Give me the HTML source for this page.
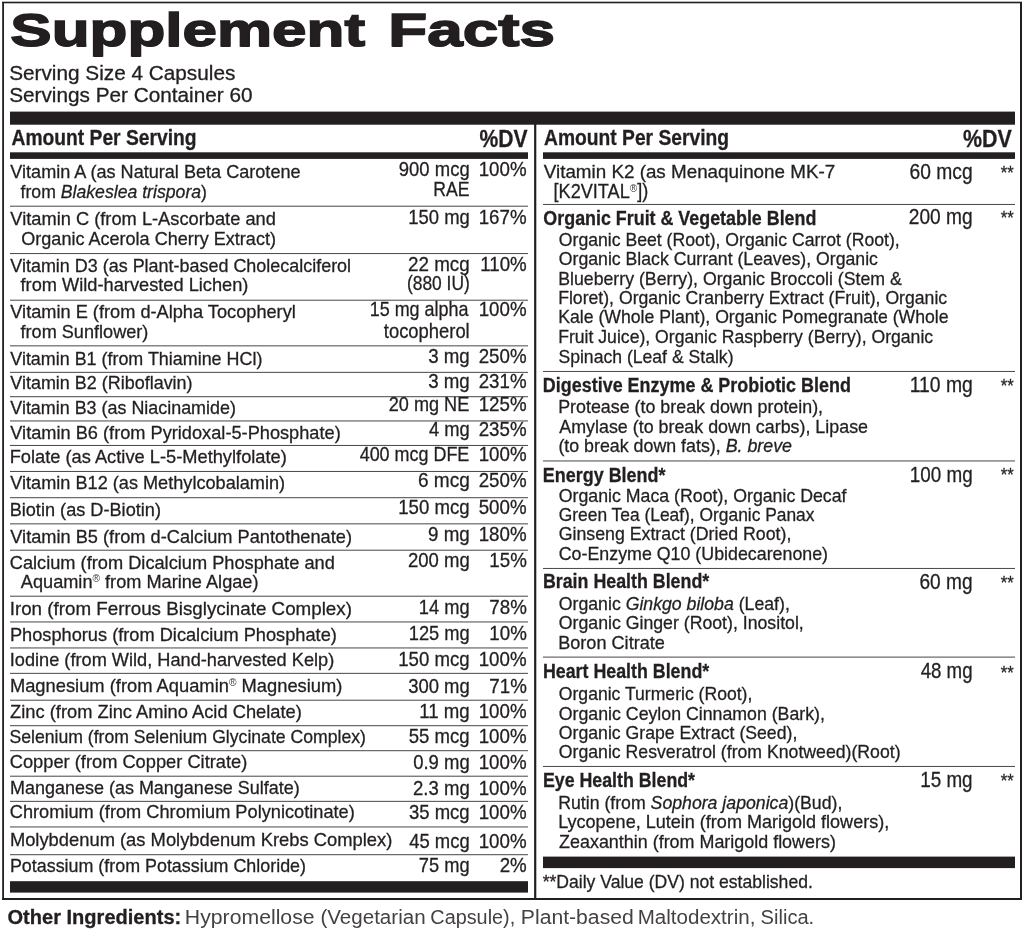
<!DOCTYPE html>
<html lang="en"><head><meta charset="utf-8"><title>Supplement Facts</title>
<style>
html,body{margin:0;padding:0;background:#fff;}
body{width:1024px;height:930px;position:relative;overflow:hidden;font-family:"Liberation Sans",sans-serif;color:#231f20;}
.t{position:absolute;left:0;top:0;white-space:nowrap;transform-origin:0 0;}
main,header,section,footer{display:block;margin:0;padding:0;}
#label,#other-ingredients{will-change:transform;}
sup{font-size:0.56em;vertical-align:0;position:relative;top:-0.56em;line-height:0;-webkit-text-stroke:0;color:#3a3637;}
i{font-style:italic;}
.n{font-size:19px;font-weight:400;line-height:21px;-webkit-text-stroke:0.3px #231f20;}
.b{font-size:20px;font-weight:700;line-height:22px;-webkit-text-stroke:0.3px #231f20;}
.n2{font-size:20.2px;font-weight:400;line-height:22px;-webkit-text-stroke:0.3px #231f20;}
.dvv{font-size:20.2px;font-weight:400;line-height:22px;-webkit-text-stroke:0.3px #231f20;}
.a{font-size:20.2px;font-weight:400;line-height:22px;-webkit-text-stroke:0.3px #231f20;}
.ra{font-size:22px;font-weight:400;line-height:25px;-webkit-text-stroke:0.3px #231f20;}
.ast{font-size:19px;font-weight:400;line-height:21px;-webkit-text-stroke:0.3px #231f20;}
.title{font-size:45.5px;font-weight:700;line-height:51px;-webkit-text-stroke:1.4px #231f20;text-shadow:0 0.7px 0 #231f20,0 -0.7px 0 #231f20;}
.serv{font-size:19.7px;font-weight:400;line-height:22px;-webkit-text-stroke:0.3px #231f20;}
.aps{font-size:21.5px;font-weight:700;line-height:24px;-webkit-text-stroke:0.3px #231f20;}
.dv{font-size:24.4px;font-weight:700;line-height:27px;-webkit-text-stroke:0.3px #231f20;}
.fb{font-size:20px;font-weight:700;line-height:22px;-webkit-text-stroke:0.3px #231f20;}
.f{font-size:20px;font-weight:400;line-height:22px;color:#454142;}
</style></head>
<body>
<svg id="lines" width="1024" height="930" viewBox="0 0 1024 930" style="position:absolute;left:0;top:0" shape-rendering="geometricPrecision"><rect x="2.2" y="2" width="1.8" height="898" fill="#231f20"/><rect x="1020" y="2" width="2" height="898" fill="#231f20"/><rect x="2" y="1.7" width="1020" height="1.6" fill="#231f20"/><rect x="2" y="898" width="1020" height="2" fill="#231f20"/><rect x="10" y="111.6" width="1005" height="13.1" fill="#231f20"/><rect x="10" y="152.3" width="518" height="6.6" fill="#231f20"/><rect x="543" y="152.3" width="472" height="6.6" fill="#231f20"/><rect x="10" y="881.2" width="518" height="11.4" fill="#231f20"/><rect x="543" y="856.6" width="472" height="11.5" fill="#231f20"/><rect x="534.1" y="124" width="2.2" height="775" fill="#231f20"/><rect x="10" y="205.7" width="518" height="1" fill="#4a4647"/><rect x="10" y="253.05" width="518" height="1" fill="#4a4647"/><rect x="10" y="299.7" width="518" height="1" fill="#4a4647"/><rect x="10" y="345.35" width="518" height="1" fill="#4a4647"/><rect x="10" y="371.85" width="518" height="1" fill="#4a4647"/><rect x="10" y="396.2" width="518" height="1" fill="#4a4647"/><rect x="10" y="420.45" width="518" height="1" fill="#4a4647"/><rect x="10" y="444.95" width="518" height="1" fill="#4a4647"/><rect x="10" y="470.95" width="518" height="1" fill="#4a4647"/><rect x="10" y="497.2" width="518" height="1" fill="#4a4647"/><rect x="10" y="523.35" width="518" height="1" fill="#4a4647"/><rect x="10" y="549.7" width="518" height="1" fill="#4a4647"/><rect x="10" y="595.7" width="518" height="1" fill="#4a4647"/><rect x="10" y="621.45" width="518" height="1" fill="#4a4647"/><rect x="10" y="647.45" width="518" height="1" fill="#4a4647"/><rect x="10" y="672.85" width="518" height="1" fill="#4a4647"/><rect x="10" y="699.7" width="518" height="1" fill="#4a4647"/><rect x="10" y="725.2" width="518" height="1" fill="#4a4647"/><rect x="10" y="750.2" width="518" height="1" fill="#4a4647"/><rect x="10" y="775.7" width="518" height="1" fill="#4a4647"/><rect x="10" y="800.85" width="518" height="1" fill="#4a4647"/><rect x="10" y="826.45" width="518" height="1" fill="#4a4647"/><rect x="10" y="854.2" width="518" height="1" fill="#4a4647"/><rect x="543" y="203.95" width="472" height="1" fill="#4a4647"/><rect x="543" y="370.95" width="472" height="1" fill="#4a4647"/><rect x="543" y="460.45" width="472" height="1" fill="#4a4647"/><rect x="543" y="567.95" width="472" height="1" fill="#4a4647"/><rect x="543" y="656.6" width="472" height="1" fill="#4a4647"/><rect x="543" y="765.95" width="472" height="1" fill="#4a4647"/></svg>
<main id="label">
<header id="label-header">
<div class="t title" style="transform:translate(10.35px,5.3px) scaleX(1.3624)">Supplement</div>
<div class="t title" style="transform:translate(388.21px,5.3px) scaleX(1.4023)">Facts</div>
<div class="t serv" style="transform:translate(9.16px,61.5px) scaleX(1.0545)">Serving Size 4 Capsules</div>
<div class="t serv" style="transform:translate(9.16px,84px) scaleX(1.0538)">Servings Per Container 60</div>
</header>
<section id="panel-left">
<div class="t aps" style="transform:translate(11.51px,126.25px) scaleX(0.8954)">Amount Per Serving</div>
<div class="t dv" style="transform:translate(479.56px,125px) scaleX(0.8642)">%DV</div>
<div class="t n" style="transform:translate(10.28px,161px) scaleX(0.9522)">Vitamin A (as Natural Beta Carotene</div>
<div class="t n" style="transform:translate(20.56px,180.5px) scaleX(0.9291)">from <i>Blakeslea trispora</i>)</div>
<div class="t n" style="transform:translate(10.28px,208px) scaleX(0.9613)">Vitamin C (from L-Ascorbate and</div>
<div class="t n" style="transform:translate(21.29px,228px) scaleX(0.9495)">Organic Acerola Cherry Extract)</div>
<div class="t n" style="transform:translate(10.29px,255px) scaleX(0.9445)">Vitamin D3 (as Plant-based Cholecalciferol</div>
<div class="t n" style="transform:translate(20.55px,274px) scaleX(0.9592)">from Wild-harvested Lichen)</div>
<div class="t n" style="transform:translate(10.28px,301px) scaleX(0.9577)">Vitamin E (from d-Alpha Tocopheryl</div>
<div class="t n" style="transform:translate(20.55px,320.5px) scaleX(0.9530)">from Sunflower)</div>
<div class="t n" style="transform:translate(10.29px,348px) scaleX(0.9423)">Vitamin B1 (from Thiamine HCl)</div>
<div class="t n" style="transform:translate(10.29px,372.25px) scaleX(0.9450)">Vitamin B2 (Riboflavin)</div>
<div class="t n" style="transform:translate(10.29px,397.25px) scaleX(0.9426)">Vitamin B3 (as Niacinamide)</div>
<div class="t n" style="transform:translate(10.28px,421.75px) scaleX(0.9579)">Vitamin B6 (from Pyridoxal-5-Phosphate)</div>
<div class="t n" style="transform:translate(9.63px,445.5px) scaleX(0.9616)">Folate (as Active L-5-Methylfolate)</div>
<div class="t n" style="transform:translate(10.28px,472.25px) scaleX(0.9545)">Vitamin B12 (as Methylcobalamin)</div>
<div class="t n" style="transform:translate(9.64px,498.75px) scaleX(0.9553)">Biotin (as D-Biotin)</div>
<div class="t n" style="transform:translate(10.28px,525.5px) scaleX(0.9582)">Vitamin B5 (from d-Calcium Pantothenate)</div>
<div class="t n" style="transform:translate(9.74px,551.75px) scaleX(0.9589)">Calcium (from Dicalcium Phosphate and</div>
<div class="t n" style="transform:translate(20.81px,571px) scaleX(0.9560)">Aquamin<sup>&reg;</sup> from Marine Algae)</div>
<div class="t n" style="transform:translate(9.7px,597.5px) scaleX(0.9882)">Iron (from Ferrous Bisglycinate Complex)</div>
<div class="t n" style="transform:translate(9.89px,623.5px) scaleX(0.9585)">Phosphorus (from Dicalcium Phosphate)</div>
<div class="t n" style="transform:translate(9.74px,648.75px) scaleX(0.9572)">Iodine (from Wild, Hand-harvested Kelp)</div>
<div class="t n" style="transform:translate(9.88px,675px) scaleX(0.9647)">Magnesium (from Aquamin<sup>&reg;</sup> Magnesium)</div>
<div class="t n" style="transform:translate(10.07px,700.5px) scaleX(0.9627)">Zinc (from Zinc Amino Acid Chelate)</div>
<div class="t n" style="transform:translate(9.42px,725.5px) scaleX(0.9275)">Selenium (from Selenium Glycinate Complex)</div>
<div class="t n" style="transform:translate(9.73px,750.5px) scaleX(0.9616)">Copper (from Copper Citrate)</div>
<div class="t n" style="transform:translate(9.91px,777.25px) scaleX(0.9466)">Manganese (as Manganese Sulfate)</div>
<div class="t n" style="transform:translate(9.74px,801.25px) scaleX(0.9584)">Chromium (from Chromium Polynicotinate)</div>
<div class="t n" style="transform:translate(9.88px,829.25px) scaleX(0.9656)">Molybdenum (as Molybdenum Krebs Complex)</div>
<div class="t n" style="transform:translate(9.91px,855px) scaleX(0.9410)">Potassium (from Potassium Chloride)</div>
<div class="t a" style="transform:translate(398.79px,158.25px) scaleX(0.9152)">900 mcg</div>
<div class="t a" style="transform:translate(433.2px,177.5px) scaleX(0.8716)">RAE</div>
<div class="t a" style="transform:translate(408.22px,205.75px) scaleX(0.9141)">150 mg</div>
<div class="t a" style="transform:translate(408.02px,252.5px) scaleX(0.9312)">22 mcg</div>
<div class="t a" style="transform:translate(406.93px,271.75px) scaleX(0.8610)">(880 IU)</div>
<div class="t a" style="transform:translate(369.75px,297.5px) scaleX(0.8884)">15 mg alpha</div>
<div class="t a" style="transform:translate(383.79px,320px) scaleX(0.9114)">tocopherol</div>
<div class="t a" style="transform:translate(428.15px,344.5px) scaleX(0.9269)">3 mg</div>
<div class="t a" style="transform:translate(428.15px,369.5px) scaleX(0.9269)">3 mg</div>
<div class="t a" style="transform:translate(388.79px,393.25px) scaleX(0.8962)">20 mg NE</div>
<div class="t a" style="transform:translate(428.91px,418.25px) scaleX(0.9093)">4 mg</div>
<div class="t a" style="transform:translate(359.67px,443.25px) scaleX(0.8884)">400 mcg DFE</div>
<div class="t a" style="transform:translate(417.98px,469px) scaleX(0.9435)">6 mcg</div>
<div class="t a" style="transform:translate(398.2px,495.75px) scaleX(0.9229)">150 mcg</div>
<div class="t a" style="transform:translate(428.03px,522.5px) scaleX(0.9296)">9 mg</div>
<div class="t a" style="transform:translate(408.03px,549px) scaleX(0.9170)">200 mg</div>
<div class="t a" style="transform:translate(418.73px,595.75px) scaleX(0.9059)">14 mg</div>
<div class="t a" style="transform:translate(408.73px,622px) scaleX(0.9064)">125 mg</div>
<div class="t a" style="transform:translate(398.2px,647.75px) scaleX(0.9229)">150 mcg</div>
<div class="t a" style="transform:translate(408.15px,674.5px) scaleX(0.9151)">300 mg</div>
<div class="t a" style="transform:translate(419.2px,700.25px) scaleX(0.9236)">11 mg</div>
<div class="t a" style="transform:translate(408.75px,725px) scaleX(0.9199)">55 mcg</div>
<div class="t a" style="transform:translate(413.17px,750.5px) scaleX(0.9165)">0.9 mg</div>
<div class="t a" style="transform:translate(413.03px,776.75px) scaleX(0.9189)">2.3 mg</div>
<div class="t a" style="transform:translate(408.9px,801px) scaleX(0.9176)">35 mcg</div>
<div class="t a" style="transform:translate(409.16px,829.5px) scaleX(0.9136)">45 mcg</div>
<div class="t a" style="transform:translate(418.78px,854.25px) scaleX(0.9049)">75 mg</div>
<div class="t dvv" style="transform:translate(478.7px,158.25px) scaleX(0.9275)">100%</div>
<div class="t dvv" style="transform:translate(478.7px,205.75px) scaleX(0.9275)">167%</div>
<div class="t dvv" style="transform:translate(480.2px,252.5px) scaleX(0.9275)">110%</div>
<div class="t dvv" style="transform:translate(478.7px,297.5px) scaleX(0.9275)">100%</div>
<div class="t dvv" style="transform:translate(478.7px,344.5px) scaleX(0.9275)">250%</div>
<div class="t dvv" style="transform:translate(478.7px,369.5px) scaleX(0.9275)">231%</div>
<div class="t dvv" style="transform:translate(478.7px,393.25px) scaleX(0.9275)">125%</div>
<div class="t dvv" style="transform:translate(478.7px,418.25px) scaleX(0.9275)">235%</div>
<div class="t dvv" style="transform:translate(478.7px,443.25px) scaleX(0.9275)">100%</div>
<div class="t dvv" style="transform:translate(478.7px,469px) scaleX(0.9275)">250%</div>
<div class="t dvv" style="transform:translate(478.7px,495.75px) scaleX(0.9275)">500%</div>
<div class="t dvv" style="transform:translate(478.7px,522.5px) scaleX(0.9275)">180%</div>
<div class="t dvv" style="transform:translate(489.33px,549px) scaleX(0.9275)">15%</div>
<div class="t dvv" style="transform:translate(489.33px,595.75px) scaleX(0.9275)">78%</div>
<div class="t dvv" style="transform:translate(489.33px,622px) scaleX(0.9275)">10%</div>
<div class="t dvv" style="transform:translate(478.7px,647.75px) scaleX(0.9275)">100%</div>
<div class="t dvv" style="transform:translate(489.33px,674.5px) scaleX(0.9275)">71%</div>
<div class="t dvv" style="transform:translate(478.7px,700.25px) scaleX(0.9275)">100%</div>
<div class="t dvv" style="transform:translate(478.7px,725px) scaleX(0.9275)">100%</div>
<div class="t dvv" style="transform:translate(478.7px,750.5px) scaleX(0.9275)">100%</div>
<div class="t dvv" style="transform:translate(478.7px,776.75px) scaleX(0.9275)">100%</div>
<div class="t dvv" style="transform:translate(478.7px,801px) scaleX(0.9275)">100%</div>
<div class="t dvv" style="transform:translate(478.7px,829.5px) scaleX(0.9275)">100%</div>
<div class="t dvv" style="transform:translate(499.68px,854.25px) scaleX(0.9275)">2%</div>
</section>
<section id="panel-right">
<div class="t aps" style="transform:translate(544.01px,126.25px) scaleX(0.8954)">Amount Per Serving</div>
<div class="t dv" style="transform:translate(963.05px,125px) scaleX(0.8778)">%DV</div>
<div class="t n" style="transform:translate(543.77px,161px) scaleX(0.9902)">Vitamin K2 (as Menaquinone MK-7</div>
<div class="t n2" style="transform:translate(553.56px,179.5px) scaleX(0.8968)">[K2VITAL<sup>&reg;</sup>])</div>
<div class="t b" style="transform:translate(543.37px,206.65px) scaleX(0.8933)">Organic Fruit &amp; Vegetable Blend</div>
<div class="t n" style="transform:translate(558.81px,228.75px) scaleX(0.9276)">Organic Beet (Root), Organic Carrot (Root),</div>
<div class="t n" style="transform:translate(558.8px,248.25px) scaleX(0.9298)">Organic Black Currant (Leaves), Organic</div>
<div class="t n" style="transform:translate(558.18px,267.75px) scaleX(0.9326)">Blueberry (Berry), Organic Broccoli (Stem &amp;</div>
<div class="t n" style="transform:translate(558.18px,287px) scaleX(0.9279)">Floret), Organic Cranberry Extract (Fruit), Organic</div>
<div class="t n" style="transform:translate(558.18px,306.25px) scaleX(0.9289)">Kale (Whole Plant), Organic Pomegranate (Whole</div>
<div class="t n" style="transform:translate(558.18px,326px) scaleX(0.9272)">Fruit Juice), Organic Raspberry (Berry), Organic</div>
<div class="t n" style="transform:translate(558.42px,345.5px) scaleX(0.9262)">Spinach (Leaf &amp; Stalk)</div>
<div class="t b" style="transform:translate(542.87px,374.15px) scaleX(0.8969)">Digestive Enzyme &amp; Probiotic Blend</div>
<div class="t n" style="transform:translate(558.17px,396.25px) scaleX(0.9394)">Protease (to break down protein),</div>
<div class="t n" style="transform:translate(559.31px,415.5px) scaleX(0.9399)">Amylase (to break down carbs), Lipase</div>
<div class="t n" style="transform:translate(558.38px,435.25px) scaleX(0.9372)">(to break down fats), <i>B. breve</i></div>
<div class="t b" style="transform:translate(542.87px,463.65px) scaleX(0.8968)">Energy Blend*</div>
<div class="t n" style="transform:translate(558.8px,484.5px) scaleX(0.9331)">Organic Maca (Root), Organic Decaf</div>
<div class="t n" style="transform:translate(558.79px,503.5px) scaleX(0.9147)">Green Tea (Leaf), Organic Panax</div>
<div class="t n" style="transform:translate(558.78px,522.75px) scaleX(0.9332)">Ginseng Extract (Dried Root),</div>
<div class="t n" style="transform:translate(558.75px,542.5px) scaleX(0.9375)">Co-Enzyme Q10 (Ubidecarenone)</div>
<div class="t b" style="transform:translate(542.88px,570.15px) scaleX(0.8909)">Brain Health Blend*</div>
<div class="t n" style="transform:translate(558.8px,593.25px) scaleX(0.9308)">Organic <i>Ginkgo biloba</i> (Leaf),</div>
<div class="t n" style="transform:translate(558.8px,612.25px) scaleX(0.9316)">Organic Ginger (Root), Inositol,</div>
<div class="t n" style="transform:translate(558.15px,631.75px) scaleX(0.9536)">Boron Citrate</div>
<div class="t b" style="transform:translate(542.88px,660.4px) scaleX(0.8909)">Heart Health Blend*</div>
<div class="t n" style="transform:translate(558.81px,683px) scaleX(0.9258)">Organic Turmeric (Root),</div>
<div class="t n" style="transform:translate(558.8px,702.5px) scaleX(0.9334)">Organic Ceylon Cinnamon (Bark),</div>
<div class="t n" style="transform:translate(558.8px,722px) scaleX(0.9294)">Organic Grape Extract (Seed),</div>
<div class="t n" style="transform:translate(558.8px,741px) scaleX(0.9300)">Organic Resveratrol (from Knotweed)(Root)</div>
<div class="t b" style="transform:translate(542.88px,769.15px) scaleX(0.8890)">Eye Health Blend*</div>
<div class="t n" style="transform:translate(558.18px,791.5px) scaleX(0.9310)">Rutin (from <i>Sophora japonica</i>)(Bud),</div>
<div class="t n" style="transform:translate(558.15px,811px) scaleX(0.9490)">Lycopene, Lutein (from Marigold flowers),</div>
<div class="t n" style="transform:translate(559.07px,830.5px) scaleX(0.9430)">Zeaxanthin (from Marigold flowers)</div>
<div class="t n" style="transform:translate(542.66px,871.25px) scaleX(0.9246)">**Daily Value (DV) not established.</div>
<div class="t ra" style="transform:translate(909.48px,158.65px) scaleX(0.8750)">60 mcg</div>
<div class="t ra" style="transform:translate(908.77px,204.15px) scaleX(0.8707)">200 mg</div>
<div class="t ra" style="transform:translate(909.68px,372.4px) scaleX(0.8798)">110 mg</div>
<div class="t ra" style="transform:translate(909.71px,461.65px) scaleX(0.8577)">100 mg</div>
<div class="t ra" style="transform:translate(919.49px,568.65px) scaleX(0.8686)">60 mg</div>
<div class="t ra" style="transform:translate(920.65px,657.9px) scaleX(0.8493)">48 mg</div>
<div class="t ra" style="transform:translate(920.21px,766.65px) scaleX(0.8566)">15 mg</div>
<div class="t ast" style="transform:translate(1000.68px,162.3px) scaleX(0.8740)">**</div>
<div class="t ast" style="transform:translate(1000.68px,206.8px) scaleX(0.8740)">**</div>
<div class="t ast" style="transform:translate(1000.68px,374.9px) scaleX(0.8740)">**</div>
<div class="t ast" style="transform:translate(1000.68px,464.4px) scaleX(0.8740)">**</div>
<div class="t ast" style="transform:translate(1000.68px,571.7px) scaleX(0.8740)">**</div>
<div class="t ast" style="transform:translate(1000.68px,661.7px) scaleX(0.8740)">**</div>
<div class="t ast" style="transform:translate(1000.68px,769.7px) scaleX(0.8740)">**</div>
</section>
</main>
<footer id="other-ingredients">
<div class="t fb" style="transform:translate(7.5px,906.25px) scaleX(1.0023)">Other Ingredients:</div>
<div class="t f" style="transform:translate(184.84px,906.25px) scaleX(1.0611)">Hypromellose</div>
<div class="t f" style="transform:translate(320.39px,906.25px) scaleX(1.0285)">(Vegetarian</div>
<div class="t f" style="transform:translate(430.35px,906.25px) scaleX(0.9910)">Capsule),</div>
<div class="t f" style="transform:translate(520.85px,906.25px) scaleX(1.0575)">Plant-based</div>
<div class="t f" style="transform:translate(637.7px,906.25px) scaleX(1.0275)">Maltodextrin,</div>
<div class="t f" style="transform:translate(760.62px,906.25px) scaleX(1.0040)">Silica.</div>
</footer>
</body></html>
